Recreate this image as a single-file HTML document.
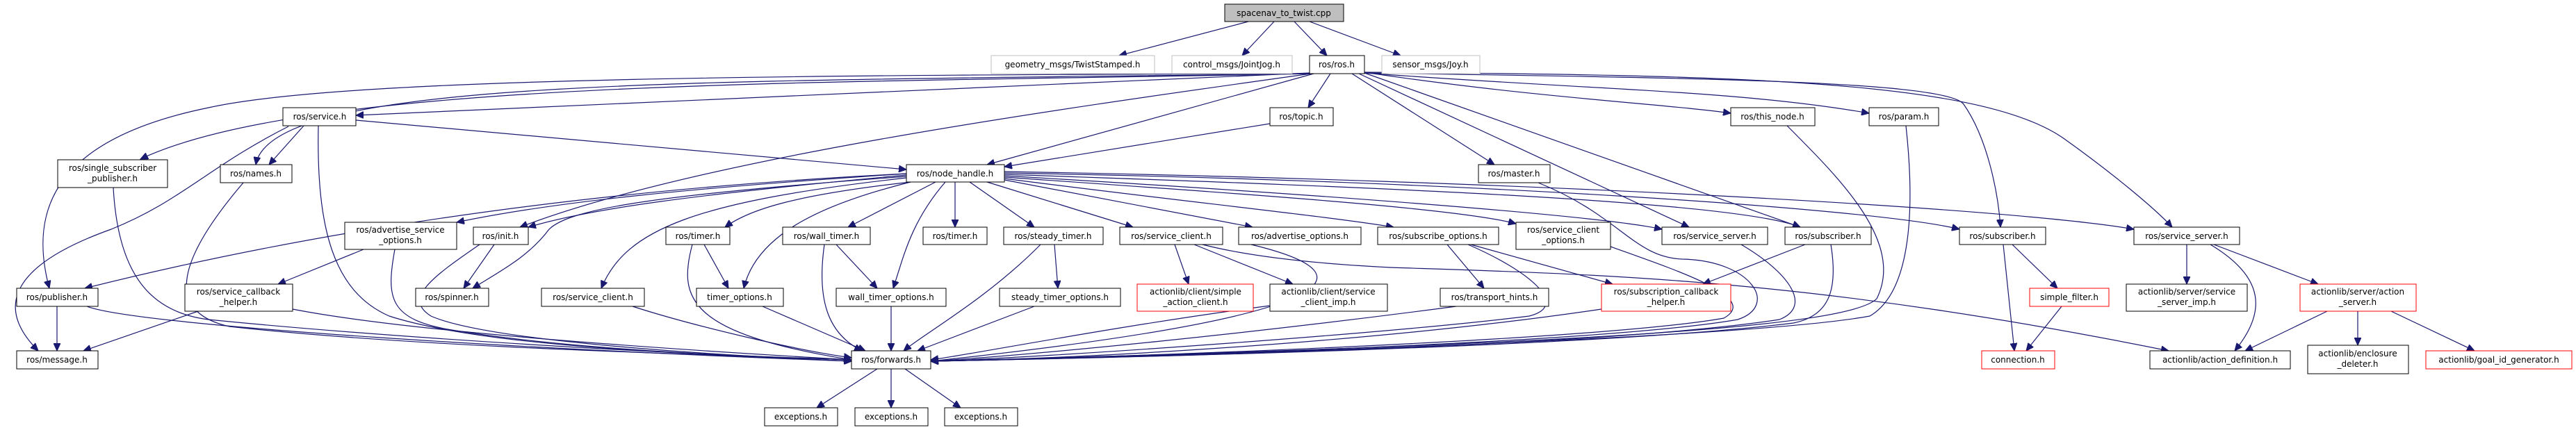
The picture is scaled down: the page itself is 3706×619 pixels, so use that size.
<!DOCTYPE html>
<html><head><meta charset="utf-8"><style>
html,body{margin:0;padding:0;background:#fff;}
svg{display:block;}
text{font-family:"DejaVu Sans","Liberation Sans",sans-serif;font-size:12px;fill:#000;}
.e{fill:none;stroke:#191970;stroke-width:1.2;marker-end:url(#a);}
</style></head><body>
<svg width="3706" height="619" viewBox="0 0 3706 619" xmlns="http://www.w3.org/2000/svg">
<defs><marker id="a" markerUnits="userSpaceOnUse" markerWidth="12" markerHeight="10" refX="11" refY="5" orient="auto"><path d="M0,0 L11,5 L0,10 Z" fill="#191970" stroke="#191970"/></marker></defs>
<g>
<path class="e" d="M1796,31 L1610,80"/>
<path class="e" d="M1833,31 L1787,80"/>
<path class="e" d="M1862,31 L1909,80"/>
<path class="e" d="M1884,31 L2015,80"/>
<path class="e" d="M1884,105 L512,166"/>
<path class="e" d="M1886,106 C1200,120 450,112 202,229"/>
<path class="e" d="M1886,106 C1000,118 390,110 368,237"/>
<path class="e" d="M1886,106 C1200,108 500,110 300,155 C80,200 40,300 71,415"/>
<path class="e" d="M1890,106 L1420,237"/>
<path class="e" d="M1827,178 L1445,240"/>
<path class="e" d="M1914,106 L1882,155"/>
<path class="e" d="M1886,106 C1500,160 1000,230 748,327"/>
<path class="e" d="M1945,106 L2150,237"/>
<path class="e" d="M1955,106 L2430,327"/>
<path class="e" d="M1963,105 L2590,327"/>
<path class="e" d="M1963,104 C2200,140 2400,150 2490,163"/>
<path class="e" d="M1963,105 C2300,130 2500,130 2689,163"/>
<path class="e" d="M1963,105 C2400,112 2800,115 2825,150 C2860,200 2875,280 2878,327"/>
<path class="e" d="M1963,104 C2500,108 2850,115 2970,200 C3040,250 3100,300 3125,327"/>
<path class="e" d="M437,181 L387,237"/>
<path class="e" d="M415,182 C300,240 260,290 160,330 C20,380 -10,440 55,505"/>
<path class="e" d="M458,181 C455,330 480,420 560,455 C700,500 1000,510 1225,518"/>
<path class="e" d="M512,173 L1304,244"/>
<path class="e" d="M163,270 C170,400 220,450 300,460 C600,490 1000,510 1225,520"/>
<path class="e" d="M350,263 C250,380 240,450 330,470 C600,500 1000,510 1225,518"/>
<path class="e" d="M82,441 L82,505"/>
<path class="e" d="M125,441 C200,470 800,505 1225,520"/>
<path class="e" d="M285,448 L120,505"/>
<path class="e" d="M421,445 C600,480 1000,505 1225,518"/>
<path class="e" d="M523,359 L400,409"/>
<path class="e" d="M568,359 C555,430 560,460 650,475 C800,500 1000,510 1225,520"/>
<path class="e" d="M711,352 L667,415"/>
<path class="e" d="M690,352 C620,400 580,430 620,455 C700,490 1000,510 1225,520"/>
<path class="e" d="M910,441 C1000,470 1150,505 1225,515"/>
<path class="e" d="M1304,250 C900,270 500,320 122,415"/>
<path class="e" d="M1304,250 C1000,270 800,290 657,320"/>
<path class="e" d="M1304,252 C1000,280 850,300 760,327"/>
<path class="e" d="M1304,254 C950,280 820,300 790,330 C760,370 720,390 680,415"/>
<path class="e" d="M1304,256 C1000,290 900,330 865,415"/>
<path class="e" d="M1310,262 C1150,280 1080,300 1043,327"/>
<path class="e" d="M1310,262 C1200,290 1090,330 1070,415"/>
<path class="e" d="M1346,262 L1220,327"/>
<path class="e" d="M1360,262 C1310,320 1300,370 1285,415"/>
<path class="e" d="M1374,262 L1374,327"/>
<path class="e" d="M1395,262 L1488,327"/>
<path class="e" d="M1420,262 L1630,327"/>
<path class="e" d="M1445,259 L1802,327"/>
<path class="e" d="M1445,257 C1700,290 1900,310 2005,327"/>
<path class="e" d="M1445,255 C1800,280 2100,300 2181,322"/>
<path class="e" d="M1445,253 C1900,280 2300,310 2391,330"/>
<path class="e" d="M1445,251 C2000,270 2500,290 2590,327"/>
<path class="e" d="M1445,249 C2100,260 2700,300 2819,330"/>
<path class="e" d="M1445,247 C2200,260 2900,300 3070,330"/>
<path class="e" d="M1013,352 L1048,415"/>
<path class="e" d="M996,352 C975,430 990,480 1225,518"/>
<path class="e" d="M1203,352 L1262,415"/>
<path class="e" d="M1186,352 C1175,430 1190,480 1240,505"/>
<path class="e" d="M1097,441 L1245,505"/>
<path class="e" d="M1282,441 L1282,505"/>
<path class="e" d="M1497,352 C1420,430 1330,480 1300,505"/>
<path class="e" d="M1517,352 L1522,415"/>
<path class="e" d="M1488,441 L1320,505"/>
<path class="e" d="M1690,352 L1710,409"/>
<path class="e" d="M1718,352 L1860,409"/>
<path class="e" d="M1730,352 C1800,370 1900,380 2000,385 C2300,395 2600,400 3120,505"/>
<path class="e" d="M1827,440 C1600,470 1400,510 1339,518"/>
<path class="e" d="M1800,352 C2000,400 1900,460 1339,520"/>
<path class="e" d="M2082,352 L2135,415"/>
<path class="e" d="M2116,352 L2320,409"/>
<path class="e" d="M2112,352 C2200,390 2260,440 2200,455 C2000,480 1500,515 1339,520"/>
<path class="e" d="M2095,441 C1800,480 1500,510 1339,520"/>
<path class="e" d="M2317,355 C2430,395 2530,430 2480,458 C2300,490 1600,515 1339,520"/>
<path class="e" d="M2304,445 C2000,490 1600,515 1339,520"/>
<path class="e" d="M2213,263 C2330,310 2350,370 2420,373 C2520,375 2560,440 2500,460 C2300,495 1600,515 1339,520"/>
<path class="e" d="M2505,352 C2570,390 2610,440 2560,460 C2300,500 1600,515 1339,520"/>
<path class="e" d="M2597,352 L2450,409"/>
<path class="e" d="M2634,352 C2645,420 2630,455 2580,465 C2300,500 1600,515 1339,520"/>
<path class="e" d="M2571,181 C2650,260 2740,350 2700,430 C2660,470 2300,495 1339,520"/>
<path class="e" d="M2742,181 C2755,300 2750,420 2690,455 C2500,490 1600,515 1339,520"/>
<path class="e" d="M2895,352 L2960,415"/>
<path class="e" d="M2882,352 L2898,505"/>
<path class="e" d="M2966,441 L2915,505"/>
<path class="e" d="M3146,352 L3146,409"/>
<path class="e" d="M3180,352 C3260,400 3260,450 3215,505"/>
<path class="e" d="M3185,352 L3335,409"/>
<path class="e" d="M3348,448 L3230,505"/>
<path class="e" d="M3392,448 L3392,497"/>
<path class="e" d="M3440,448 L3560,505"/>
<path class="e" d="M1262,531 L1175,587"/>
<path class="e" d="M1282,531 L1282,587"/>
<path class="e" d="M1302,531 L1382,587"/>
</g>
<g fill="#fff" stroke="#000" stroke-width="1">
<rect x="1762" y="6" width="171" height="25" fill="#bfbfbf"/>
<rect x="1426" y="80" width="235" height="26" stroke="#bfbfbf"/>
<rect x="1686" y="80" width="173" height="26" stroke="#bfbfbf"/>
<rect x="1884" y="80" width="79" height="26"/>
<rect x="1988" y="80" width="141" height="26" stroke="#bfbfbf"/>
<rect x="407" y="155" width="105" height="26"/>
<rect x="1827" y="155" width="91" height="26"/>
<rect x="2490" y="155" width="121" height="26"/>
<rect x="2689" y="155" width="100" height="26"/>
<rect x="83" y="230" width="158" height="40"/>
<rect x="317" y="237" width="103" height="26"/>
<rect x="1304" y="237" width="141" height="25"/>
<rect x="2127" y="237" width="103" height="26"/>
<rect x="496" y="320" width="161" height="39"/>
<rect x="681" y="327" width="79" height="25"/>
<rect x="958" y="327" width="92" height="25"/>
<rect x="1126" y="327" width="126" height="25"/>
<rect x="1328" y="327" width="92" height="25"/>
<rect x="1444" y="327" width="143" height="25"/>
<rect x="1611" y="327" width="148" height="25"/>
<rect x="1782" y="327" width="176" height="25"/>
<rect x="1982" y="327" width="174" height="25"/>
<rect x="2181" y="320" width="136" height="39"/>
<rect x="2391" y="327" width="152" height="25"/>
<rect x="2568" y="327" width="124" height="25"/>
<rect x="2819" y="327" width="124" height="25"/>
<rect x="3070" y="327" width="152" height="25"/>
<rect x="24" y="415" width="117" height="26"/>
<rect x="266" y="409" width="155" height="39"/>
<rect x="598" y="415" width="105" height="26"/>
<rect x="779" y="415" width="148" height="26"/>
<rect x="1002" y="415" width="125" height="26"/>
<rect x="1203" y="415" width="158" height="26"/>
<rect x="1438" y="415" width="174" height="26"/>
<rect x="1636" y="409" width="167" height="39" stroke="#ff0000"/>
<rect x="1827" y="409" width="169" height="39"/>
<rect x="2072" y="415" width="156" height="26"/>
<rect x="2304" y="409" width="186" height="39" stroke="#ff0000"/>
<rect x="2920" y="415" width="114" height="26" stroke="#ff0000"/>
<rect x="3059" y="409" width="174" height="39"/>
<rect x="3309" y="409" width="167" height="39" stroke="#ff0000"/>
<rect x="24" y="505" width="117" height="26"/>
<rect x="1225" y="505" width="114" height="26"/>
<rect x="2851" y="505" width="105" height="26" stroke="#ff0000"/>
<rect x="3093" y="505" width="202" height="26"/>
<rect x="3320" y="497" width="145" height="41"/>
<rect x="3490" y="505" width="210" height="26" stroke="#ff0000"/>
<rect x="1100" y="587" width="105" height="26"/>
<rect x="1230" y="587" width="105" height="26"/>
<rect x="1359" y="587" width="105" height="26"/>
</g>
<g text-anchor="middle">
<text x="1847" y="23">spacenav_to_twist.cpp</text>
<text x="1543" y="97">geometry_msgs/TwistStamped.h</text>
<text x="1772" y="97">control_msgs/JointJog.h</text>
<text x="1923" y="97">ros/ros.h</text>
<text x="2058" y="97">sensor_msgs/Joy.h</text>
<text x="460" y="172">ros/service.h</text>
<text x="1872" y="172">ros/topic.h</text>
<text x="2550" y="172">ros/this_node.h</text>
<text x="2739" y="172">ros/param.h</text>
<text x="162" y="246">ros/single_subscriber</text><text x="162" y="261">_publisher.h</text>
<text x="368" y="254">ros/names.h</text>
<text x="1374" y="254">ros/node_handle.h</text>
<text x="2178" y="254">ros/master.h</text>
<text x="576" y="335">ros/advertise_service</text><text x="576" y="350">_options.h</text>
<text x="720" y="344">ros/init.h</text>
<text x="1004" y="344">ros/timer.h</text>
<text x="1189" y="344">ros/wall_timer.h</text>
<text x="1374" y="344">ros/timer.h</text>
<text x="1515" y="344">ros/steady_timer.h</text>
<text x="1685" y="344">ros/service_client.h</text>
<text x="1870" y="344">ros/advertise_options.h</text>
<text x="2069" y="344">ros/subscribe_options.h</text>
<text x="2249" y="335">ros/service_client</text><text x="2249" y="350">_options.h</text>
<text x="2467" y="344">ros/service_server.h</text>
<text x="2630" y="344">ros/subscriber.h</text>
<text x="2881" y="344">ros/subscriber.h</text>
<text x="3146" y="344">ros/service_server.h</text>
<text x="82" y="432">ros/publisher.h</text>
<text x="343" y="424">ros/service_callback</text><text x="343" y="439">_helper.h</text>
<text x="650" y="432">ros/spinner.h</text>
<text x="853" y="432">ros/service_client.h</text>
<text x="1064" y="432">timer_options.h</text>
<text x="1282" y="432">wall_timer_options.h</text>
<text x="1525" y="432">steady_timer_options.h</text>
<text x="1720" y="424">actionlib/client/simple</text><text x="1720" y="439">_action_client.h</text>
<text x="1911" y="424">actionlib/client/service</text><text x="1911" y="439">_client_imp.h</text>
<text x="2150" y="432">ros/transport_hints.h</text>
<text x="2397" y="424">ros/subscription_callback</text><text x="2397" y="439">_helper.h</text>
<text x="2977" y="432">simple_filter.h</text>
<text x="3146" y="424">actionlib/server/service</text><text x="3146" y="439">_server_imp.h</text>
<text x="3392" y="424">actionlib/server/action</text><text x="3392" y="439">_server.h</text>
<text x="82" y="522">ros/message.h</text>
<text x="1282" y="522">ros/forwards.h</text>
<text x="2903" y="522">connection.h</text>
<text x="3194" y="522">actionlib/action_definition.h</text>
<text x="3392" y="513">actionlib/enclosure</text><text x="3392" y="528">_deleter.h</text>
<text x="3595" y="522">actionlib/goal_id_generator.h</text>
<text x="1152" y="604">exceptions.h</text>
<text x="1282" y="604">exceptions.h</text>
<text x="1411" y="604">exceptions.h</text>
</g>
</svg>
</body></html>
